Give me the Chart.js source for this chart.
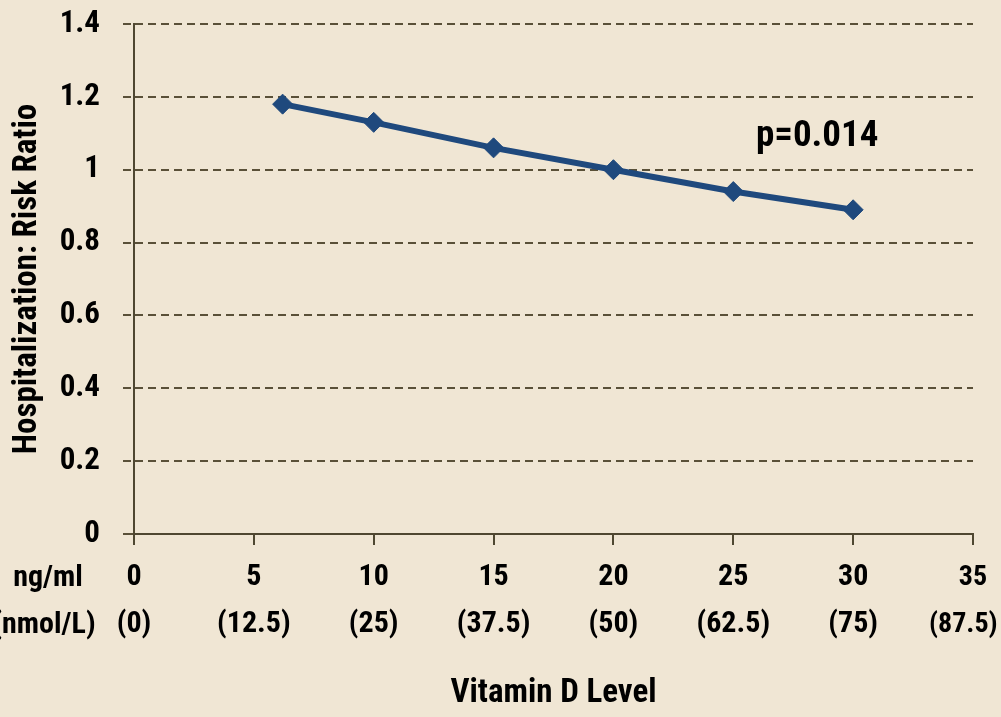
<!DOCTYPE html>
<html>
<head>
<meta charset="utf-8">
<script src="https://cdn.jsdelivr.net/npm/chart.js@4/dist/chart.umd.min.js"></script>
<style>
  html, body { margin: 0; padding: 0; background: #f0e6d4; }
  #wrap { width: 1001px; height: 717px; }
</style>
</head>
<body>
<div id="wrap"><canvas id="c" width="1001" height="717"></canvas></div>
<script>
// ---- data ----
const vitaminD = [6.2, 10, 15, 20, 25, 30];           // ng/ml
const riskRatio = [1.18, 1.13, 1.06, 1.00, 0.94, 0.89];
const xTickValues = [0, 5, 10, 15, 20, 25, 30, 35];
const ngLabels = ['0', '5', '10', '15', '20', '25', '30', '35'];
const nmolLabels = ['(0)', '(12.5)', '(25)', '(37.5)', '(50)', '(62.5)', '(75)', '(87.5)'];
const yTickValues = [0, 0.2, 0.4, 0.6, 0.8, 1, 1.2, 1.4];
const yTickLabels = ['0', '0.2', '0.4', '0.6', '0.8', '1', '1.2', '1.4'];
const unitLabels = ['ng/ml', '(nmol/L)'];
const pValueText = 'p=0.014';
const pValuePos = [28.5, 1.09];

const FONT = "'Roboto Condensed', 'Open Sans Condensed', 'Liberation Sans Narrow', 'DejaVu Sans Condensed', sans-serif";
const BG = '#f0e6d4';
const AXIS = '#4f4731';
const GRID = '#5a5038';
const LINE = '#1f497d';

const bgPlugin = {
  id: 'bg',
  beforeDraw(chart) {
    const ctx = chart.ctx;
    ctx.save();
    ctx.fillStyle = BG;
    ctx.fillRect(0, 0, chart.width, chart.height);
    ctx.restore();
  }
};

const extraText = {
  id: 'extraText',
  afterDraw(chart) {
    const ctx = chart.ctx;
    const xs = chart.scales.x, ys = chart.scales.y;
    ctx.save();
    ctx.fillStyle = '#000';
    ctx.textBaseline = 'middle';
    ctx.textAlign = 'center';
    ctx.font = 'bold 30px ' + FONT;
    const y1 = xs.top + 44;
    ctx.fillText(unitLabels[0], 48, y1);
    ctx.fillText(unitLabels[1], 44, y1 + 47);
    ctx.font = 'bold 37px ' + FONT;
    ctx.fillText(pValueText, xs.getPixelForValue(pValuePos[0]), ys.getPixelForValue(pValuePos[1]));
    ctx.restore();
  }
};

new Chart(document.getElementById('c'), {
  type: 'line',
  data: {
    datasets: [{
      data: vitaminD.map((v, i) => ({ x: v, y: riskRatio[i] })),
      borderColor: LINE,
      backgroundColor: LINE,
      borderWidth: 6,
      pointStyle: 'rectRot',
      pointRadius: 10,
      pointBorderWidth: 1,
      pointBackgroundColor: LINE,
      pointBorderColor: LINE,
      tension: 0,
      fill: false
    }]
  },
  options: {
    responsive: false,
    devicePixelRatio: 1,
    animation: false,
    layout: { padding: { top: 24, right: 0, left: 0, bottom: 0 } },
    plugins: { legend: { display: false }, tooltip: { enabled: false } },
    scales: {
      x: {
        type: 'linear',
        min: 0, max: 35,
        afterBuildTicks(scale) { scale.ticks = xTickValues.map(v => ({ value: v })); },
        afterFit(scale) { scale.height = 183; scale.paddingRight = 28; scale.paddingLeft = 0; },
        ticks: {
          autoSkip: false,
          maxRotation: 0,
          color: '#000',
          padding: 9,
          font: (c) => ({
            family: FONT,
            size: (c.index === xTickValues.length - 1) ? 28 : 30,
            weight: 'bold',
            lineHeight: '47px'
          }),
          callback(value) {
            const i = xTickValues.indexOf(value);
            if (i < 0) return '';
            const last = i === xTickValues.length - 1;
            return [ngLabels[i], last ? nmolLabels[i] + '\u00a0\u00a0\u00a0' : nmolLabels[i]];
          }
        },
        grid: { drawOnChartArea: false, drawTicks: true, tickLength: 11, color: AXIS, lineWidth: 2 },
        border: { display: true, color: AXIS, width: 2 },
        title: {
          display: true,
          text: 'Vitamin D Level',
          color: '#000',
          font: { family: FONT, size: 33, weight: 'bold' },
          padding: { top: 0, bottom: 3 }
        }
      },
      y: {
        type: 'linear',
        min: 0, max: 1.4,
        afterBuildTicks(scale) { scale.ticks = yTickValues.map(v => ({ value: v })); },
        afterFit(scale) { scale.width = 134; scale.paddingTop = 0; scale.paddingBottom = 0; },
        ticks: {
          color: '#000',
          padding: 23,
          font: { family: FONT, size: 31, weight: 'bold' },
          callback(value) {
            const i = yTickValues.findIndex(v => Math.abs(v - value) < 1e-9);
            return i >= 0 ? yTickLabels[i] : '';
          }
        },
        grid: {
          color: GRID,
          lineWidth: 2,
          tickLength: 11,
          tickColor: GRID,
          tickWidth: 2,
          tickBorderDash: (c) => (c.tick && c.tick.value === 0) ? [] : [8, 5]
        },
        border: { display: true, color: AXIS, width: 2, dash: [8, 5] },
        title: {
          display: true,
          text: 'Hospitalization: Risk Ratio',
          color: '#000',
          font: { family: FONT, size: 33, weight: 'bold' },
          padding: { top: 8, bottom: 0 }
        }
      }
    }
  },
  plugins: [bgPlugin, extraText]
});
</script>
</body>
</html>
